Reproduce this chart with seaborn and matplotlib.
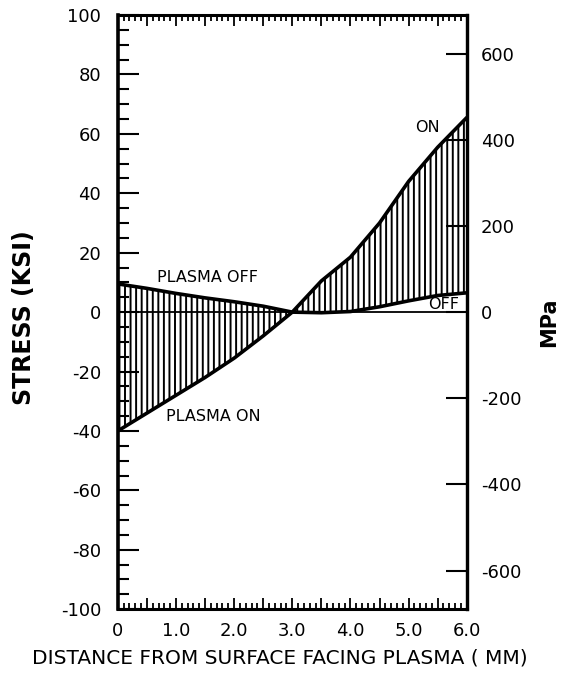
import numpy as np
import pandas as pd
import seaborn as sns
import matplotlib.pyplot as plt
import matplotlib.ticker as ticker

sns.set_style("ticks")
plt.rcParams['font.family'] = ['DejaVu Sans']
plt.rcParams['axes.unicode_minus'] = False
plt.rcParams['hatch.linewidth'] = 1.4
for key in ['text.color', 'axes.labelcolor', 'xtick.color', 'ytick.color',
            'xtick.labelcolor', 'ytick.labelcolor']:
    plt.rcParams[key] = 'black'

# values (stress in ksi, distance in mm)
distance = [0.0, 0.5, 1.0, 1.5, 2.0, 2.5, 3.0, 3.5, 4.0, 4.5, 5.0, 5.5, 6.0]
stress_off = [9.5, 8.0, 6.3, 4.8, 3.5, 2.0, 0.0, -0.2, 0.2, 1.8, 3.8, 5.6, 6.5]
stress_on = [-40.0, -34.0, -28.0, -22.0, -15.5, -8.0, 0.0, 10.5, 18.5, 30.0, 44.0, 55.5, 65.5]

xtick_pos = [0.0, 0.5, 1.0, 1.5, 2.0, 2.5, 3.0, 3.5, 4.0, 4.5, 5.0, 5.5, 6.0]
xtick_labels = ["0", "", "1.0", "", "2.0", "", "3.0", "", "4.0", "", "5.0", "", "6.0"]
ksi_ticks = [-100, -80, -60, -40, -20, 0, 20, 40, 60, 80, 100]
mpa_ticks = [-600, -400, -200, 0, 200, 400, 600]
KSI_TO_MPA = 6.895

data = pd.DataFrame({"distance": distance, "off": stress_off, "on": stress_on})
data = data.melt("distance", var_name="state", value_name="stress")

fig = plt.figure(figsize=(5.61, 6.86), dpi=100)
ax = fig.add_axes([0.210, 0.112, 0.622, 0.866])

sns.lineplot(data=data, x="distance", y="stress", hue="state",
             palette={"off": "black", "on": "black"}, linewidth=2.6,
             legend=False, ax=ax)

# hatched band between the two stress profiles
ax.fill_between(distance, stress_off, stress_on, facecolor="none",
                edgecolor="black", hatch="|||", linewidth=0)
ax.axhline(0, color="black", linewidth=1.3)

ax.set_xlim(0, 6)
ax.set_ylim(-100, 100)

ax.set_xticks(xtick_pos, labels=xtick_labels)
ax.xaxis.set_minor_locator(ticker.MultipleLocator(0.1))
ax.set_yticks(ksi_ticks)
ax.yaxis.set_minor_locator(ticker.MultipleLocator(5))

ax.tick_params(axis="x", which="both", direction="in", top=True, bottom=True,
               labeltop=False, labelsize=13, pad=9, width=1.3, color="black")
ax.tick_params(axis="x", which="major", length=8)
ax.tick_params(axis="x", which="minor", length=4.5)
ax.tick_params(axis="y", which="both", direction="in", left=True, right=False,
               labelsize=13, pad=12, width=1.5, color="black")
ax.tick_params(axis="y", which="major", length=15)
ax.tick_params(axis="y", which="minor", length=8)

for side in ["left", "right", "top", "bottom"]:
    ax.spines[side].set_color("black")
    ax.spines[side].set_linewidth(2.2)
ax.spines["left"].set_linewidth(2.6)

sec = ax.secondary_yaxis("right", functions=(lambda k: k * KSI_TO_MPA,
                                             lambda m: m / KSI_TO_MPA))
sec.set_yticks(mpa_ticks)
sec.tick_params(direction="in", length=15, width=1.5, labelsize=13, pad=10,
                color="black", labelcolor="black")
sec.spines["right"].set_linewidth(2.4)
sec.spines["right"].set_color("black")

ax.text(1.55, 11.5, "PLASMA OFF", ha="center", va="center", fontsize=11.5)
ax.text(1.65, -35, "PLASMA ON", ha="center", va="center", fontsize=11.5)
ax.text(5.33, 62, "ON", ha="center", va="center", fontsize=11.5)
ax.text(5.6, 2.6, "OFF", ha="center", va="center", fontsize=11.5)

ax.set_xlabel("DISTANCE FROM SURFACE FACING PLASMA ( MM)", fontsize=14.5)
ax.xaxis.set_label_coords(0.464, -0.066)
ax.set_ylabel("STRESS (KSI)", fontsize=17, fontweight="bold")
ax.yaxis.set_label_coords(-0.235, 0.49)

fig.text(539 / 561, 1 - 322 / 686, "MPa", rotation=90, ha="left", va="center",
         fontsize=15, fontweight="bold")

fig.savefig("out.png", dpi=100)
